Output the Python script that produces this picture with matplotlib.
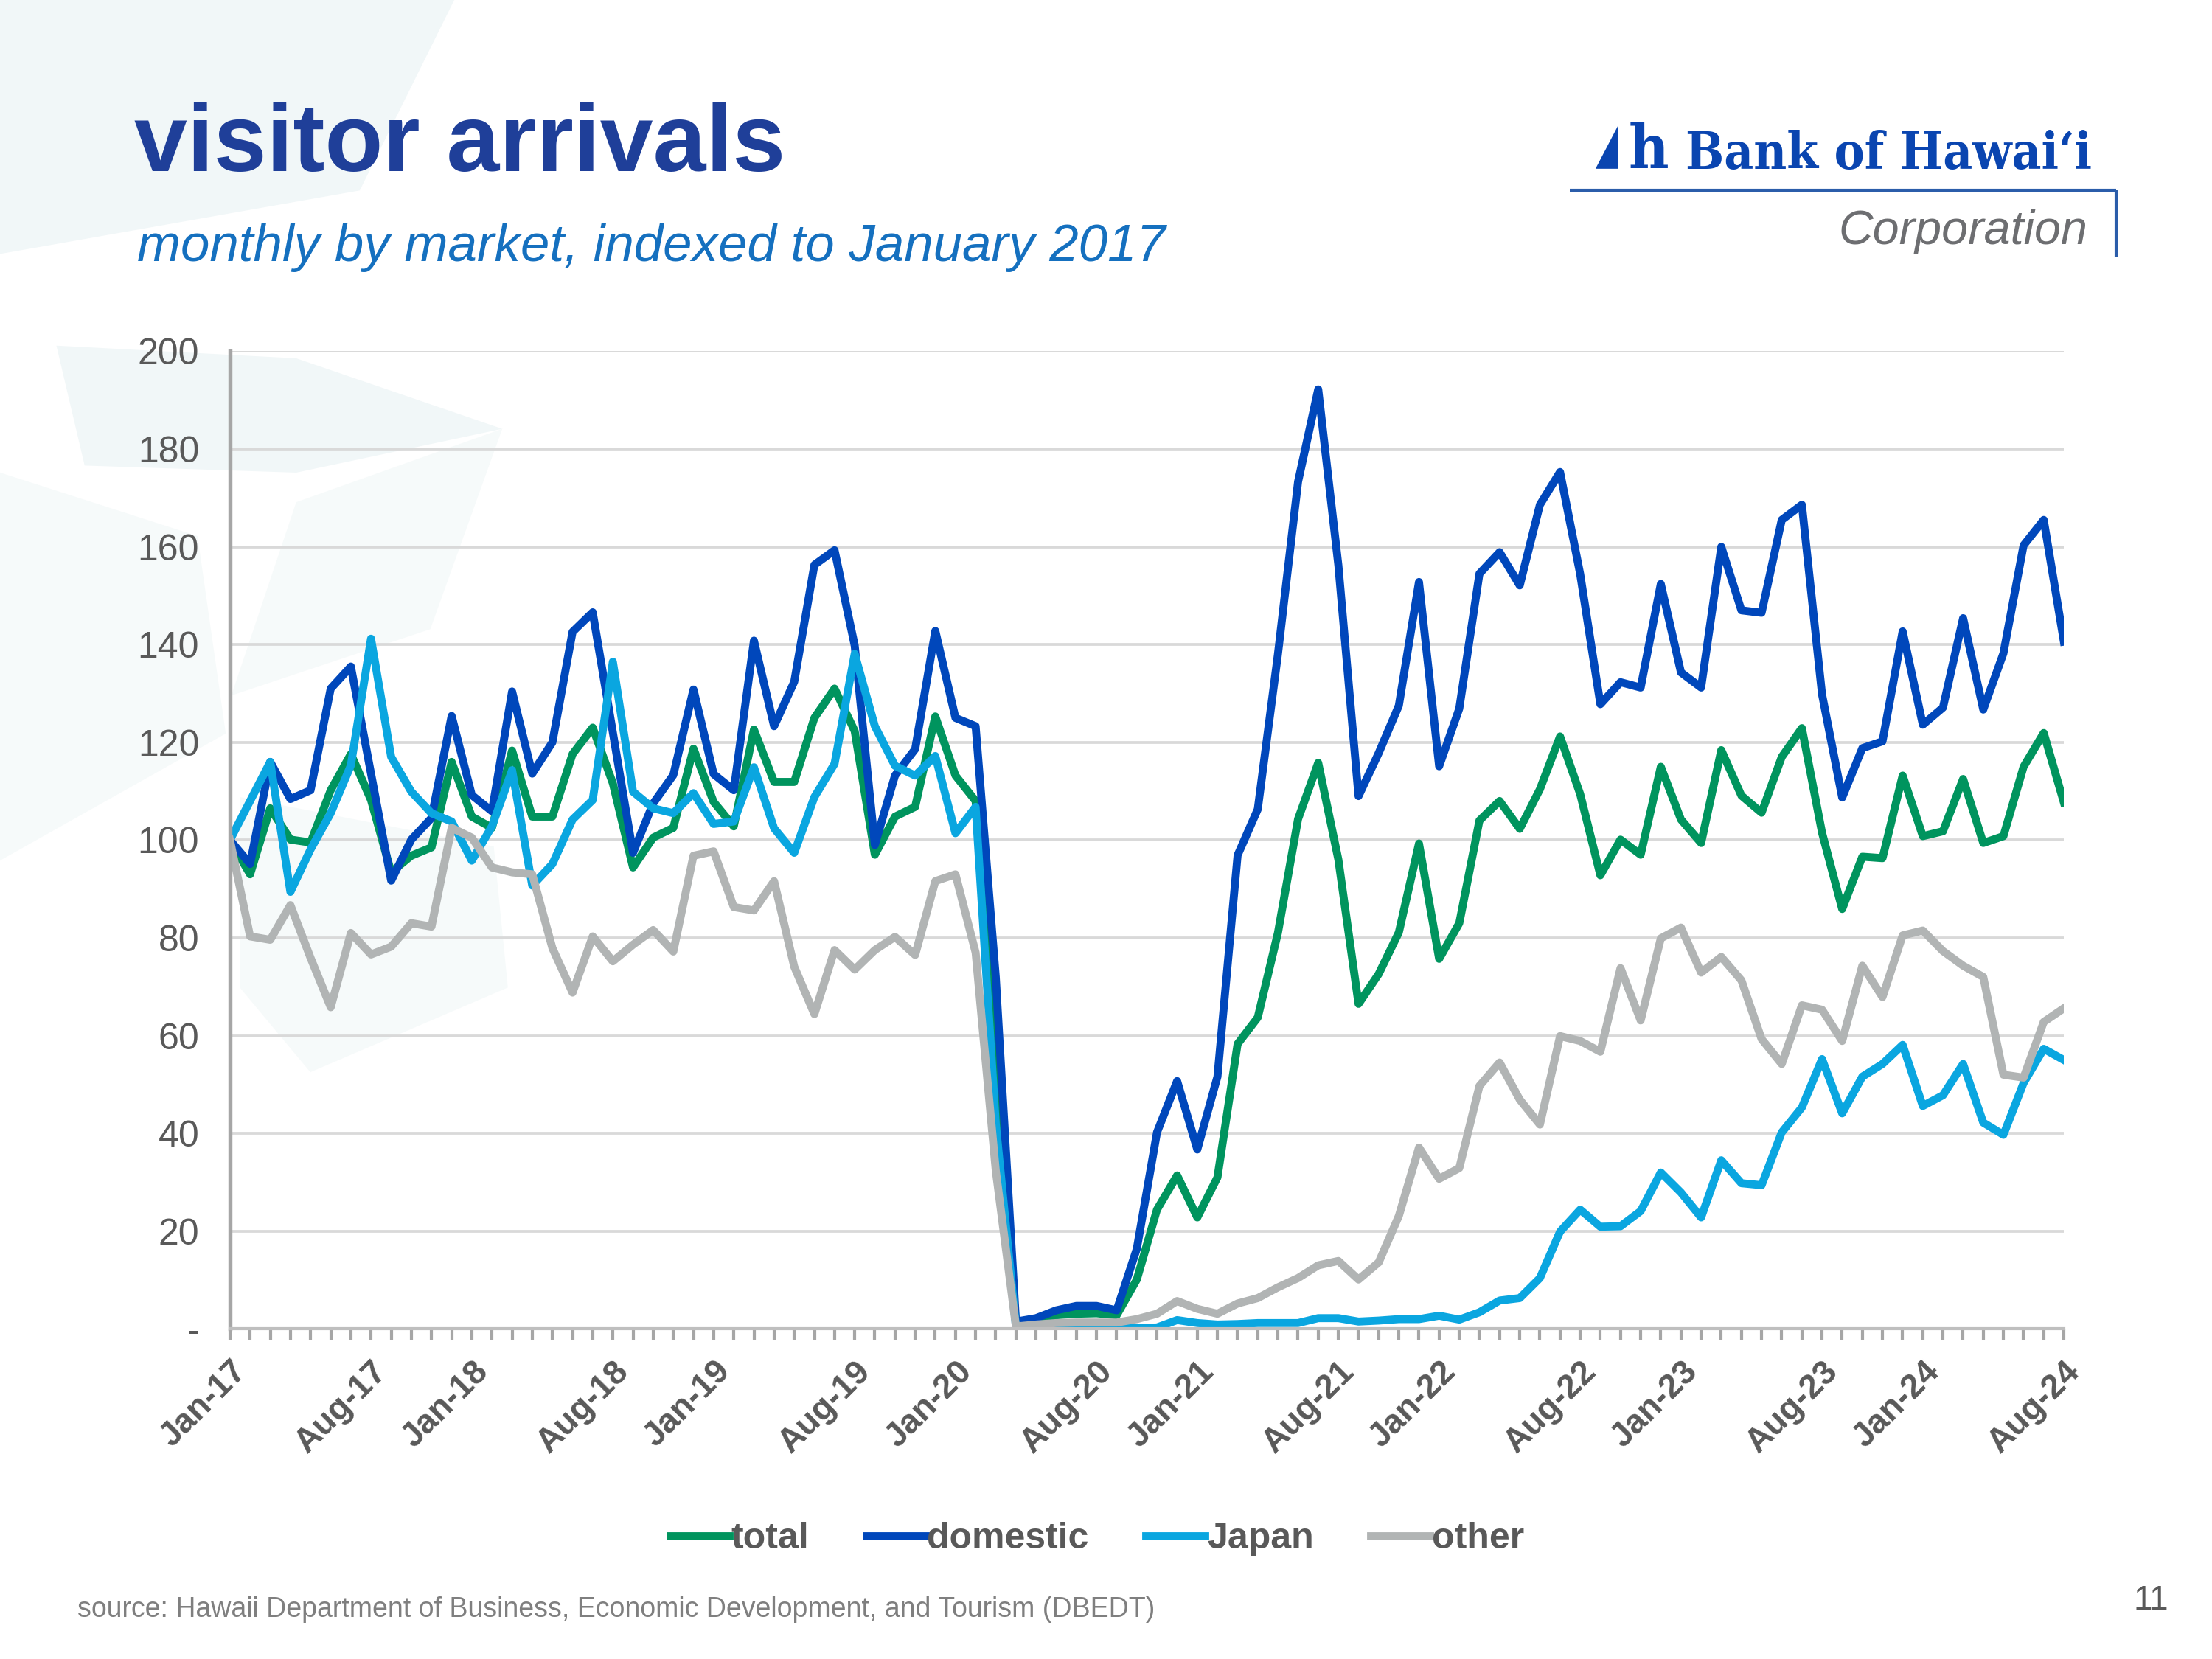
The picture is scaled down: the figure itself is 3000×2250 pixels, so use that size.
import numpy as np
import matplotlib
matplotlib.use('Agg')
import matplotlib.pyplot as plt
from matplotlib.patches import Polygon
import pandas as pd

# ---------------- data ----------------
months = [d.strftime('%b-%y') for d in pd.date_range('2017-01-01', periods=92, freq='MS')]
label_months = ['Jan-17', 'Aug-17', 'Jan-18', 'Aug-18', 'Jan-19', 'Aug-19', 'Jan-20', 'Aug-20',
                'Jan-21', 'Aug-21', 'Jan-22', 'Aug-22', 'Jan-23', 'Aug-23', 'Jan-24', 'Aug-24']

total = [100, 93, 106.5, 100.1, 99.5, 110.2, 117.6, 108.2, 93.4, 96.8, 98.5, 116,
         104.8, 102.5, 118.3, 104.8, 104.8, 117.6, 123, 111.6, 94.4, 100.5, 102.5, 118.7,
         107.8, 102.8, 122.6, 111.9, 111.9, 125, 131, 122.3, 97, 104.8, 106.8, 125.3,
         113.2, 108, 53, 1, 1.5, 2.8, 3.1, 3.2, 2.8, 10.1, 24.4, 31.4,
         22.8, 31, 58.3, 63.7, 81, 104.3, 115.8, 96, 66.5, 72.6, 81.1, 99.3,
         75.7, 83, 104, 108, 102.3, 110.4, 121.2, 109.4, 92.8, 100.1, 97, 115,
         104.2, 99.4, 118.4, 109.1, 105.6, 117, 122.9, 101.5, 85.9, 96.6, 96.3, 113.2,
         100.8, 101.8, 112.5, 99.4, 100.8, 115, 121.9, 107.7]

domestic = [100, 95.1, 116, 108.4, 110.2, 131, 135.5, 113.6, 91.7, 100.1, 104.5, 125.4,
            109.2, 105.9, 130.4, 113.6, 120, 142.6, 146.6, 122, 97.4, 107.5, 113.3, 130.8,
            113.5, 110.2, 140.8, 123.3, 132.4, 156.3, 159.3, 139.8, 99, 113.2, 118.6, 142.8,
            125, 123.3, 72, 1.5, 2.2, 3.8, 4.7, 4.7, 3.8, 16.4, 40.2, 50.7,
            36.7, 51.6, 96.9, 106.3, 138, 173.3, 192.2, 156.2, 109, 117.8, 127.5, 152.8,
            115.1, 126.9, 154.5, 158.9, 152.1, 168.6, 175.3, 154.4, 127.8, 132.3, 131.2, 152.4,
            134.3, 131.2, 160, 147, 146.5, 165.5, 168.6, 129.8, 108.7, 118.8, 120.2, 142.7,
            123.6, 127.1, 145.4, 126.7, 138.2, 160.3, 165.5, 140.6]

japan = [100, 108, 116, 89.4, 98.1, 105.5, 115.3, 141.2, 117, 109.9, 105.5, 103.8,
         95.8, 102.8, 114.3, 90.7, 95.1, 104.2, 108.2, 136.5, 109.9, 106.5, 105.5, 109.6,
         103.3, 103.8, 114.9, 102.4, 97.4, 108.8, 115.6, 138.1, 123.3, 115.2, 113.2, 117.2,
         101.4, 106.8, 42, 0.5, 0.2, 0.1, 0.1, 0.1, 0.1, 0.2, 0.3, 1.8,
         1.2, 0.9, 1.0, 1.2, 1.2, 1.2, 2.2, 2.2, 1.5, 1.7, 2.0, 2.0,
         2.7, 1.9, 3.4, 5.8, 6.3, 10.4, 19.9, 24.4, 20.9, 21, 24.1, 32,
         27.9, 22.8, 34.5, 29.8, 29.4, 40.2, 45.3, 55.2, 44.1, 51.6, 54.2, 58.1,
         45.6, 47.8, 54.2, 42.2, 39.7, 50.3, 57.3, 55]

other = [100, 80.3, 79.6, 86.7, 75.9, 65.8, 81, 76.6, 78.2, 83, 82.3, 102.5,
         100.5, 94.4, 93.4, 93, 77.9, 68.8, 80.3, 75.2, 78.6, 81.6, 77.2, 96.8,
         97.7, 86.3, 85.6, 91.6, 74.1, 64.4, 77.5, 73.5, 77.5, 80.2, 76.5, 91.6,
         93, 77, 32.4, 0.5, 0.9, 1.2, 1.3, 1.3, 1.3, 2, 3.1, 5.7,
         4.1, 3.1, 5.2, 6.3, 8.5, 10.4, 13, 13.9, 10.1, 13.6, 23.1, 37.1,
         30.7, 32.9, 49.7, 54.5, 46.9, 41.8, 59.9, 58.9, 56.7, 73.8, 63.1, 79.9,
         82.1, 72.9, 76.1, 71.3, 59.3, 54.2, 66.2, 65.3, 58.9, 74.3, 67.9, 80.5,
         81.5, 77.3, 74.3, 72, 52, 51.4, 62.8, 65.6]

series_names = ['total', 'domestic', 'Japan', 'other']
series_values = [total, domestic, japan, other]
series_colors = ['#00945E', '#0047BB', '#0AA6E0', '#B1B4B4']

yticks = [0, 20, 40, 60, 80, 100, 120, 140, 160, 180, 200]
ytick_labels = ['-', '20', '40', '60', '80', '100', '120', '140', '160', '180', '200']

# ---------------- figure ----------------
plt.rcParams['font.family'] = ['Liberation Sans', 'DejaVu Sans']
fig = plt.figure(figsize=(10, 7.5), dpi=300)
W, H = 1568, 1176

bg = fig.add_axes([0, 0, 1, 1], zorder=0)
bg.set_xlim(0, W)
bg.set_ylim(H, 0)
bg.axis('off')

# faint watermark shapes
wm = '#F1F7F8'
wm2 = '#F6FAFA'
for pts, c in [
    ([(0, 0), (322, 0), (255, 135), (0, 180)], wm),
    ([(40, 245), (210, 254), (356, 304), (210, 335), (60, 330)], wm),
    ([(210, 356), (356, 304), (305, 446), (164, 493)], wm2),
    ([(0, 335), (140, 380), (160, 520), (0, 610)], wm2),
    ([(170, 565), (350, 600), (360, 700), (220, 760), (170, 700)], wm2),
]:
    bg.add_patch(Polygon(pts, closed=True, facecolor=c, edgecolor='none'))

# title / subtitle
bg.text(95, 121, 'visitor arrivals', fontsize=31, fontweight='bold', color='#1F3F99',
        ha='left', va='baseline')
bg.text(97, 185, 'monthly by market, indexed to January 2017', fontsize=17, style='italic',
        color='#1570BF', ha='left', va='baseline')

# logo
logo_blue = '#0A45B0'
bg.add_patch(Polygon([(1131, 119.6), (1147, 89), (1147, 119.6)], closed=True,
                     facecolor=logo_blue, edgecolor='none'))
bg.text(1183, 119.6, 'h', fontsize=20, fontweight='bold', family='DejaVu Serif',
        fontstretch='condensed', color=logo_blue, ha='right', va='baseline')
bg.text(1483, 119.6, 'Bank of Hawai\u02bbi', fontsize=16.5, fontweight='bold',
        family='DejaVu Serif', fontstretch='condensed', color=logo_blue,
        ha='right', va='baseline')
bg.plot([1113, 1500], [135, 135], color='#2B5DAA', lw=1.0, solid_capstyle='butt')
bg.plot([1500, 1500], [135, 182], color='#2B5DAA', lw=1.0, solid_capstyle='butt')
bg.text(1480, 173, 'Corporation', fontsize=15.5, style='italic', color='#6D6E71',
        ha='right', va='baseline')

# source and page number
bg.text(55, 1146, 'source: Hawaii Department of Business, Economic Development, and Tourism (DBEDT)',
        fontsize=9.0, color='#7F7F7F', ha='left', va='baseline')
bg.text(1537, 1141, '11', fontsize=11, color='#595959', ha='right', va='baseline')

# ---------------- chart ----------------
ax = fig.add_axes([163 / W, 1 - 942 / H, 1300 / W, 693 / H], zorder=1)
ax.patch.set_alpha(0)

x = np.arange(len(months))
lines = []
for name, vals, col in zip(series_names, series_values, series_colors):
    ln, = ax.plot(x, vals, color=col, lw=2.6, label=name, solid_joinstyle='round')
    lines.append(ln)

ax.set_xlim(0, len(months) - 1)
ax.set_ylim(0, 200)

ax.set_xticks(x)
ax.set_xticklabels([m if m in label_months else '' for m in months], rotation=45,
                   ha='right', va='top', rotation_mode='anchor',
                   fontsize=11, fontweight='bold', color='#595959')
ax.tick_params(axis='x', direction='out', length=3.5, width=1.0, color='#A6A6A6', pad=5)

ax.set_yticks(yticks)
ax.set_yticklabels(ytick_labels)
ax.tick_params(axis='y', length=0, pad=10, labelsize=12, labelcolor='#595959')

ax.yaxis.grid(True, color='#D9D9D9', lw=0.9)
ax.set_axisbelow(True)
for s in ['top', 'right']:
    ax.spines[s].set_visible(False)
ax.spines['left'].set_color('#A6A6A6')
ax.spines['left'].set_linewidth(1.3)
ax.spines['bottom'].set_color('#BFBFBF')
ax.spines['bottom'].set_linewidth(1.0)

leg = ax.legend(handles=lines, loc='center', bbox_to_anchor=(0.496, 1 - 1091 / H),
                bbox_transform=fig.transFigure, ncol=4, frameon=False,
                handlelength=1.6, handletextpad=0.05, columnspacing=1.55,
                prop={'weight': 'bold', 'size': 12})
for t in leg.get_texts():
    t.set_color('#595959')

fig.savefig('out.png', dpi=300)
